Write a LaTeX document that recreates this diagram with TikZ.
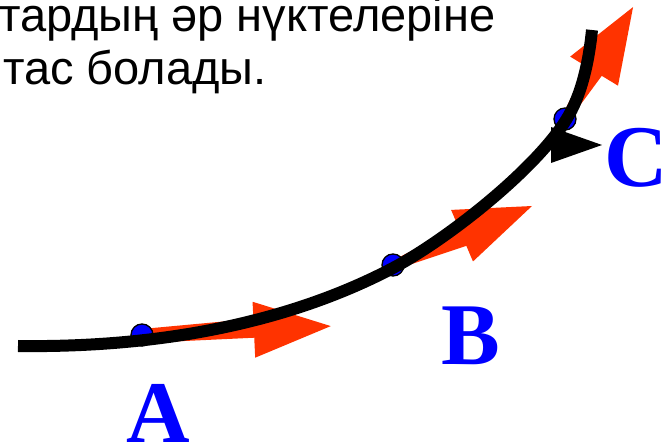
\documentclass[tikz,border=0pt]{standalone}
\usepackage{fontspec}
\setmainfont{Liberation Sans}
\newfontfamily\letterfont{Liberation Serif}
\definecolor{vecRed}{HTML}{FF3300}
\definecolor{ptBlue}{HTML}{0000FF}
\tikzset{
  traj/.style={draw=black, line width=12pt},
  vel/.style={fill=vecRed, draw=none},
  pt/.style={circle, draw=black, fill=ptBlue, line width=1.3pt,
        minimum size=22pt, inner sep=0pt},
  ptlab/.style={font=\letterfont\bfseries\fontsize{88}{88}\selectfont,
        text=ptBlue, anchor=base, inner sep=0pt},
  caption/.style={font=\fontsize{47}{54}\selectfont, anchor=base west,
        inner sep=0pt}
}
\begin{document}
\begin{tikzpicture}[x=1pt, y=-1pt]
\useasboundingbox (0,0) rectangle (667,443);

\node[caption] (t1) at (-1,32) {тардың әр нүктелеріне};
\node[caption] (t2) at (3,85)  {тас болады.};

\coordinate (A) at (142,335);
\coordinate (B) at (393,265);
\coordinate (C) at (565,119);

% velocity vectors
\fill[vel, shift={(A)}, rotate=2.7]  (0,-6) -- (112,-11) -- (112,-28) -- (189,0) -- (112,28) -- (112,8) -- (0,8) -- cycle;
\fill[vel, shift={(B)}, rotate=23]   (0,-4) -- (75,-10) -- (75,-28) -- (151,0) -- (75,28) -- (75,11) -- (0,5) -- cycle;
\fill[vel, shift={(C)}, rotate=58.7] (0,-4) -- (56,-9) -- (56,-28) -- (131,0) -- (56,28) -- (56,9) -- (0,4) -- cycle;

\node[pt] (dA) at (A) {};
\node[pt] (dB) at (B) {};
\node[pt] (dC) at (C) {};

% trajectory
\draw[traj] (18,346) .. controls (170,348) and (296,319) .. (393,268)
    .. controls (446,240) and (534,171) .. (566,120)
    .. controls (582,95) and (589,60) .. (592,30);
\fill (551,127) -- (602,145) -- (551,163) -- cycle;

\node[ptlab] (lA) at (158,443) {A};
\node[ptlab] (lB) at (471,365) {B};
\node[ptlab] (lC) at (636,187) {C};
\end{tikzpicture}
\end{document}
